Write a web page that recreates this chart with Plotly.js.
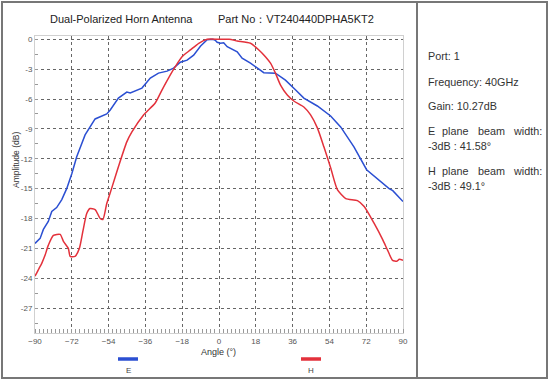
<!DOCTYPE html>
<html>
<head>
<meta charset="utf-8">
<script src="https://cdn.plot.ly/plotly-3.0.1.min.js"></script>
<style>html,body{margin:0;padding:0;background:#fff;}#chart{width:554px;height:382px;}</style>
</head>
<body>
<div id="chart"></div>
<script>
// E plane (blue)
var eAngle = [-90,-87.5,-85.9,-83.5,-81.8,-79.4,-76.9,-74.5,-72,-69.6,-65.5,-60.6,-54.9,-53.2,-49.2,-45.1,-43.4,-37.7,-33.6,-29.6,-25.4,-22.2,-18.9,-15.6,-12.4,-9.1,-5.8,-3,-1.8,-0.9,0.7,2.3,4.0,6.5,8.9,11.3,15.4,19.5,21.9,27.6,32.5,37.5,41.5,48.1,54.6,59.5,66.0,72.2,77.5,79.1,83.2,85,90];
var eAmp = [-20.5,-20.0,-19.1,-18.3,-17.3,-16.9,-16.1,-15.0,-13.5,-11.8,-9.6,-8.0,-7.5,-7.1,-5.9,-5.3,-5.4,-4.9,-3.9,-3.4,-3.2,-2.9,-2.3,-2.1,-1.6,-0.7,-0.05,0,-0.1,-0.3,-0.4,-0.35,-0.74,-1.0,-1.25,-1.9,-2.4,-3.0,-3.35,-3.4,-4.1,-5.1,-5.9,-6.7,-7.7,-8.8,-10.8,-13.1,-14.0,-14.3,-15.0,-15.2,-16.3];
// H plane (red)
var hAngle = [-90,-88,-86.7,-85.1,-83.5,-81.0,-77.7,-76.1,-73.7,-72.8,-70.4,-68.3,-66.6,-64.7,-63.1,-60.6,-58.1,-56.8,-54.9,-52.4,-49.2,-45.1,-42.6,-36.9,-31.2,-27.9,-24.7,-21.4,-18.1,-14.0,-9.9,-5.8,0,5,8.9,15.4,19.5,22.7,25.2,27.6,30.1,33.4,36.6,41.5,44.8,48.1,51.3,54.6,57.9,62.0,67.7,71.0,75.9,80.0,82.5,84.9,87.0,88.2,90];
var hAmp = [-23.8,-23.0,-22.5,-21.7,-20.7,-19.7,-19.6,-20.3,-21.0,-21.8,-21.8,-21.0,-19.3,-17.5,-17.0,-17.1,-18.0,-18.1,-16.5,-14.9,-12.8,-10.3,-9.3,-7.6,-6.4,-5.1,-3.9,-2.75,-1.75,-1.07,-0.4,0,0,0,-0.17,-0.4,-1.07,-1.75,-2.4,-3.4,-4.6,-5.6,-6.2,-6.8,-7.6,-8.9,-10.8,-12.9,-15.1,-16.0,-16.2,-16.8,-18.5,-20.1,-21.2,-22.2,-22.3,-22.1,-22.2];

var xTicks = [-90,-72,-54,-36,-18,0,18,36,54,72,90];
var yTicks = [0,-3,-6,-9,-12,-15,-18,-21,-24,-27];
var yTickText = ['0','-3','-6','-9','-12','-15','-18','-21','-24','-27'];
var seriesNames = ['E','H'];
var titleLeft = 'Dual-Polarized Horn Antenna';
var titleRight = 'Part No：VT240440DPHA5KT2';
var xTitle = 'Angle (°)';
var yTitle = 'Amplitude (dB)';
var infoLines = ['Port: 1','Frequency: 40GHz','Gain: 10.27dB','E plane beam width:','-3dB : 41.58°','H plane beam width:','-3dB : 49.1°'];

var blue = '#2b4fd2', red = '#e3313b';
var L = 35, R = 403, T = 36, B = 333;
function px(x){return (x-L)/(R-L);}
function py(y){return (B-y)/(B-T);}

var traces = [
  {x:eAngle, y:eAmp, name:seriesNames[0], type:'scatter', mode:'lines', line:{color:blue, width:1.5}},
  {x:hAngle, y:hAmp, name:seriesNames[1], type:'scatter', mode:'lines', line:{color:red, width:1.5, shape:'spline', smoothing:0.6}}
];

var ann = [];
var tf = {family:'Liberation Sans, Arial, sans-serif', size:11, color:'#222'};
ann.push({xref:'paper', yref:'paper', x:px(48), y:py(19), xanchor:'left', yanchor:'middle', text:titleLeft, showarrow:false, font:tf});
ann.push({xref:'paper', yref:'paper', x:px(216), y:py(19), xanchor:'left', yanchor:'middle', text:titleRight, showarrow:false, font:tf});
var infoY = [56,82,106,131,146,171,186];
var inf = {family:'Liberation Sans, Arial, sans-serif', size:10.8, color:'#333'};
for (var i=0;i<infoLines.length;i++){
  if (infoLines[i].indexOf('plane beam width')>=0){
    var w = infoLines[i].split(' ');
    var xs = [426,440,476,511];
    for (var k=0;k<w.length;k++) ann.push({xref:'paper', yref:'paper', x:px(xs[k]), y:py(infoY[i]), xanchor:'left', yanchor:'middle', text:w[k], showarrow:false, font:inf});
  } else {
    ann.push({xref:'paper', yref:'paper', x:px(426), y:py(infoY[i]), xanchor:'left', yanchor:'middle', text:infoLines[i], showarrow:false, font:inf});
  }
}
// axis titles
ann.push({xref:'paper', yref:'paper', x:px(218), y:py(352), xanchor:'center', yanchor:'middle', text:xTitle, showarrow:false, font:{family:'Liberation Sans, Arial, sans-serif', size:9, color:'#333'}});
ann.push({xref:'paper', yref:'paper', x:px(16), y:py(160), xanchor:'center', yanchor:'middle', text:yTitle, textangle:-90, showarrow:false, font:{family:'Liberation Sans, Arial, sans-serif', size:8.5, color:'#333'}});
// legend labels
var lf = {family:'Liberation Sans, Arial, sans-serif', size:8, color:'#444'};
ann.push({xref:'paper', yref:'paper', x:px(128), y:py(370), xanchor:'center', yanchor:'middle', text:seriesNames[0], showarrow:false, font:lf});
ann.push({xref:'paper', yref:'paper', x:px(311), y:py(370), xanchor:'center', yanchor:'middle', text:seriesNames[1], showarrow:false, font:lf});

var shapes = [
  {type:'rect', xref:'paper', yref:'paper', x0:px(2), x1:px(547), y0:py(2), y1:py(378), line:{color:'#777', width:2}, fillcolor:'rgba(0,0,0,0)'},
  {type:'line', xref:'paper', yref:'paper', x0:px(417), x1:px(417), y0:py(2), y1:py(378), line:{color:'#777', width:2}},
  {type:'line', xref:'paper', yref:'paper', x0:px(118), x1:px(138), y0:py(359), y1:py(359), line:{color:blue, width:3.5}},
  {type:'line', xref:'paper', yref:'paper', x0:px(301), x1:px(321), y0:py(359), y1:py(359), line:{color:red, width:3.5}}
];

var layout = {
  width:554, height:382,
  margin:{l:L, r:554-R, t:T, b:382-B, pad:0},
  paper_bgcolor:'#fff', plot_bgcolor:'#fff',
  showlegend:false,
  font:{family:'Liberation Sans, Arial, sans-serif', color:'#555'},
  xaxis:{range:[-90,90], tickvals:xTicks, ticks:'', tickfont:{size:8, color:'#555'},
    showgrid:true, gridcolor:'#666', griddash:'dot', gridwidth:1, zeroline:false,
    showline:true, linecolor:'#d0d0d0', linewidth:1, mirror:true,
    minor:{dtick:2, tick0:0, ticks:'inside', ticklen:4, tickcolor:'#999', showgrid:false}},
  yaxis:{range:[-29.5,0.33], tickvals:yTicks, ticktext:yTickText, ticks:'', tickfont:{size:8, color:'#555'},
    showgrid:true, gridcolor:'#666', griddash:'dot', gridwidth:1, zeroline:false,
    showline:true, linecolor:'#d0d0d0', linewidth:1, mirror:true,
    minor:{dtick:1.5, tick0:0, ticks:'inside', ticklen:3, tickcolor:'#999', showgrid:false}},
  annotations:ann, shapes:shapes
};
Plotly.newPlot('chart', traces, layout, {displayModeBar:false, staticPlot:true});
</script>
</body>
</html>
